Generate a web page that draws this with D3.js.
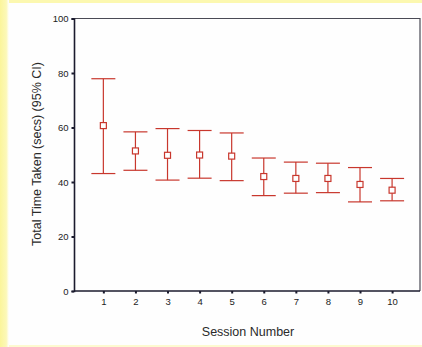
<!DOCTYPE html>
<html>
<head>
<meta charset="utf-8">
<script src="https://cdn.jsdelivr.net/npm/d3@7"></script>
<style>
  html, body { margin: 0; padding: 0; background: #ffffff; }
  svg { display: block; }
</style>
</head>
<body>
<script>
// Session means with 95% confidence interval bounds (seconds)
const sessions = [1, 2, 3, 4, 5, 6, 7, 8, 9, 10];
const means    = [60.7, 51.4, 49.8, 49.9, 49.5, 42.0, 41.3, 41.3, 39.1, 37.0];
const lower    = [43.1, 44.3, 40.7, 41.4, 40.5, 35.0, 35.9, 36.1, 32.7, 33.1];
const upper    = [77.9, 58.4, 59.6, 58.9, 58.0, 48.8, 47.3, 46.9, 45.3, 41.3];
const yTicks   = [0, 20, 40, 60, 80, 100];

const W = 422, H = 347;
const svg = d3.select("body").append("svg").attr("width", W).attr("height", H);

// page background with a pale yellow edge
const defs = svg.append("defs");
const grad = defs.append("linearGradient").attr("id", "edgeL").attr("x1", 0).attr("x2", 1);
grad.append("stop").attr("offset", "0%").attr("stop-color", "#fbf59a");
grad.append("stop").attr("offset", "70%").attr("stop-color", "#fcf8b8");
grad.append("stop").attr("offset", "100%").attr("stop-color", "#ffffff");
svg.append("rect").attr("width", W).attr("height", H).attr("fill", "#fefefe");
svg.append("rect").attr("x", 0).attr("y", 0).attr("width", W).attr("height", 3).attr("fill", "#fcf8b0");
svg.append("rect").attr("x", 0).attr("y", H - 2).attr("width", W).attr("height", 2).attr("fill", "#fdfad0");
svg.append("rect").attr("x", 0).attr("y", 0).attr("width", 9).attr("height", H).attr("fill", "url(#edgeL)");

const plot = { left: 74, right: 420, top: 18.5, bottom: 291 };

const x = d3.scaleLinear().domain([0.085, 10.87]).range([plot.left, plot.right]);
const y = d3.scaleLinear().domain([0, 100]).range([plot.bottom, plot.top]);

const ink = "#1b1b2e";
const red = "#c8372d";
const font = "Liberation Sans, Arial, sans-serif";

// frame (top and right)
svg.append("path")
  .attr("d", `M${plot.left},${plot.top}H${plot.right}V${plot.bottom}`)
  .attr("fill", "none").attr("stroke", "#4a4a55").attr("stroke-width", 1.2);

// y axis
const yAxis = svg.append("g").attr("transform", `translate(${plot.left},0)`)
  .call(d3.axisLeft(y).tickValues(yTicks).tickSize(2.5).tickPadding(3).tickFormat(d3.format("d")));
yAxis.select(".domain").attr("stroke", ink).attr("stroke-width", 1.6);
yAxis.selectAll(".tick line").attr("stroke", ink).attr("stroke-width", 2);
yAxis.selectAll(".tick text").attr("font-family", font).attr("font-size", 9.5).attr("fill", "#222");

// x axis
const xAxis = svg.append("g").attr("transform", `translate(0,${plot.bottom})`)
  .call(d3.axisBottom(x).tickValues(sessions).tickSize(2.5).tickPadding(5).tickFormat(d3.format("d")));
xAxis.select(".domain").attr("stroke", ink).attr("stroke-width", 1.6)
  .attr("d", `M${plot.left},0H${plot.right}`);
xAxis.selectAll(".tick line").attr("stroke", ink).attr("stroke-width", 2);
xAxis.selectAll(".tick text").attr("font-family", font).attr("font-size", 9.5).attr("fill", "#222");

// axis titles
svg.append("text")
  .attr("x", 248).attr("y", 336)
  .attr("text-anchor", "middle")
  .attr("font-family", font).attr("font-size", 12.5).attr("fill", "#2a2a2a")
  .text("Session Number");

svg.append("text")
  .attr("transform", `translate(41,154) rotate(-90)`)
  .attr("text-anchor", "middle")
  .attr("font-family", font).attr("font-size", 12.5).attr("fill", "#2a2a2a")
  .text("Total Time Taken (secs) (95% CI)");

// error bars
const data = sessions.map((s, i) => ({ s, m: means[i], lo: lower[i], hi: upper[i] }));
const capHalf = 12, box = 6;
const bars = svg.append("g").attr("stroke", red).attr("stroke-width", 1.2).attr("fill", "none");

bars.selectAll("line.stem").data(data).join("line").attr("class", "stem")
  .attr("x1", d => x(d.s)).attr("x2", d => x(d.s))
  .attr("y1", d => y(d.hi)).attr("y2", d => y(d.lo));
bars.selectAll("line.capT").data(data).join("line").attr("class", "capT")
  .attr("x1", d => x(d.s) - capHalf).attr("x2", d => x(d.s) + capHalf)
  .attr("y1", d => y(d.hi)).attr("y2", d => y(d.hi));
bars.selectAll("line.capB").data(data).join("line").attr("class", "capB")
  .attr("x1", d => x(d.s) - capHalf).attr("x2", d => x(d.s) + capHalf)
  .attr("y1", d => y(d.lo)).attr("y2", d => y(d.lo));
bars.selectAll("rect.mean").data(data).join("rect").attr("class", "mean")
  .attr("x", d => x(d.s) - box / 2).attr("y", d => y(d.m) - box / 2)
  .attr("width", box).attr("height", box).attr("fill", "#fff");
</script>
</body>
</html>
